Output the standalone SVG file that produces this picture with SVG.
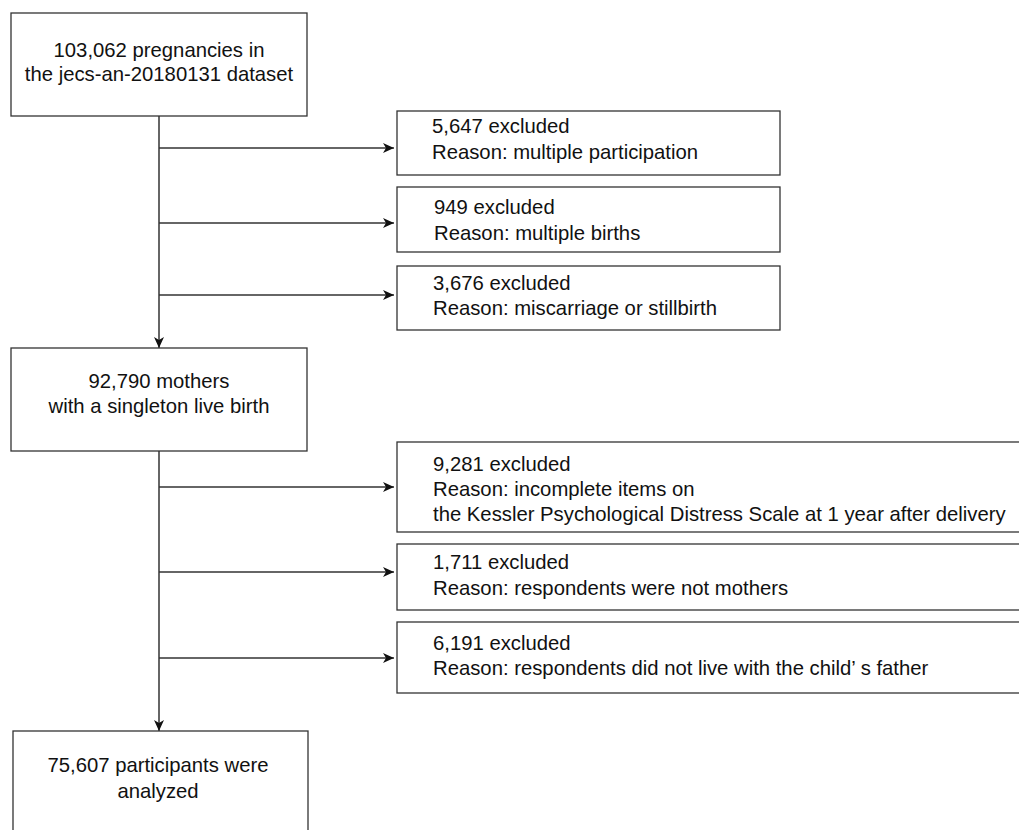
<svg xmlns="http://www.w3.org/2000/svg" width="1019" height="830" viewBox="0 0 1019 830">
<style>
.box{fill:#fff;stroke:#333;stroke-width:1.3}
.ln{fill:none;stroke:#333;stroke-width:1.5}
.t{font-family:"Liberation Sans",Arial,sans-serif;font-size:20.3px;fill:#111}
.c{text-anchor:middle}
</style>
<defs>
<marker id="ah" markerUnits="userSpaceOnUse" markerWidth="14" markerHeight="12" viewBox="0 0 14 12" refX="12" refY="6" orient="auto">
<path d="M12,6 L1,1 L4,6 L1,11 Z" fill="#111"/>
</marker>
</defs>
<rect width="1019" height="830" fill="#fff"/>
<g id="connectors">
<path class="ln" d="M159,116 V348" marker-end="url(#ah)"/>
<path class="ln" d="M159,148 H394" marker-end="url(#ah)"/>
<path class="ln" d="M159,223 H394" marker-end="url(#ah)"/>
<path class="ln" d="M159,295 H394" marker-end="url(#ah)"/>
<path class="ln" d="M159,451 V731" marker-end="url(#ah)"/>
<path class="ln" d="M159,487 H394" marker-end="url(#ah)"/>
<path class="ln" d="M159,572 H394" marker-end="url(#ah)"/>
<path class="ln" d="M159,658 H394" marker-end="url(#ah)"/>
</g>
<g id="n1">
<rect class="box" x="11" y="13" width="296" height="103"/>
<text class="t c" x="159" y="57">103,062 pregnancies in</text>
<text class="t c" x="159" y="81">the jecs-an-20180131 dataset</text>
</g>
<g id="e1">
<rect class="box" x="397" y="111" width="383" height="64"/>
<text class="t" x="432" y="133">5,647 excluded</text>
<text class="t" x="432" y="159">Reason: multiple participation</text>
</g>
<g id="e2">
<rect class="box" x="397" y="187" width="383" height="65"/>
<text class="t" x="434" y="214">949 excluded</text>
<text class="t" x="434" y="240">Reason: multiple births</text>
</g>
<g id="e3">
<rect class="box" x="397" y="266" width="383" height="64"/>
<text class="t" x="433" y="290">3,676 excluded</text>
<text class="t" x="433" y="315">Reason: miscarriage or stillbirth</text>
</g>
<g id="n2">
<rect class="box" x="11" y="348" width="296" height="103"/>
<text class="t c" x="159" y="388">92,790 mothers</text>
<text class="t c" x="159" y="413">with a singleton live birth</text>
</g>
<g id="e4">
<rect class="box" x="397" y="442" width="630" height="90"/>
<text class="t" x="433" y="471">9,281 excluded</text>
<text class="t" x="433" y="496">Reason: incomplete items on</text>
<text class="t" x="433" y="521">the Kessler Psychological Distress Scale at 1 year after delivery</text>
</g>
<g id="e5">
<rect class="box" x="397" y="544" width="630" height="66"/>
<text class="t" x="433" y="569">1,711 excluded</text>
<text class="t" x="433" y="595">Reason: respondents were not mothers</text>
</g>
<g id="e6">
<rect class="box" x="397" y="622" width="630" height="71"/>
<text class="t" x="433" y="650">6,191 excluded</text>
<text class="t" x="433" y="675">Reason: respondents did not live with the child’ s father</text>
</g>
<g id="n3">
<rect class="box" x="13" y="731" width="295" height="110"/>
<text class="t c" x="158" y="772">75,607 participants were</text>
<text class="t c" x="158" y="798">analyzed</text>
</g>
</svg>
